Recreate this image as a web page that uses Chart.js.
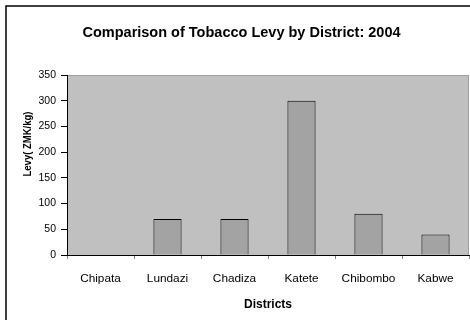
<!DOCTYPE html>
<html>
<head>
<meta charset="utf-8">
<script src="https://cdn.jsdelivr.net/npm/chart.js@4.4.1/dist/chart.umd.min.js"></script>
<style>
html,body{margin:0;padding:0;background:#fff;overflow:hidden;}
#wrap{position:relative;width:470px;height:320px;}
</style>
</head>
<body>
<div id="wrap"><canvas id="c" width="470" height="320"></canvas></div>
<script>
const districts = ["Chipata", "Lundazi", "Chadiza", "Katete", "Chibombo", "Kabwe"];
const levy = [0, 70, 70, 300, 80, 40];
const yTicks = [0, 50, 100, 150, 200, 250, 300, 350];
const chartTitle = "Comparison of Tobacco Levy by District: 2004";
const xTitle = "Districts";
const yTitle = "Levy( ZMK/kg)";

const FONT = "'Liberation Sans', Arial, sans-serif";

const framePlugin = {
  id: 'frame',
  beforeDraw(chart) {
    const {ctx, chartArea: a} = chart;
    ctx.save();
    ctx.fillStyle = '#fff';
    ctx.fillRect(0, 0, chart.width, chart.height);
    ctx.strokeStyle = '#000';
    ctx.lineWidth = 1.5;
    ctx.beginPath();
    ctx.moveTo(6, chart.height);
    ctx.lineTo(6, 6);
    ctx.lineTo(chart.width, 6);
    ctx.stroke();
    ctx.fillStyle = '#c0c0c0';
    ctx.fillRect(a.left, a.top, a.right - a.left, a.bottom - a.top);
    ctx.strokeStyle = '#a0a0a0';
    ctx.lineWidth = 1;
    ctx.strokeRect(a.left + 0.5, a.top + 0.5, a.right - a.left - 1, a.bottom - a.top);
    ctx.restore();
  },
  afterDraw(chart) {
    // y-axis title, centred where the reference places it
    const {ctx, chartArea: a} = chart;
    ctx.save();
    ctx.translate(28, (a.top + a.bottom) / 2 - 21);
    ctx.rotate(-Math.PI / 2);
    ctx.scale(1, 1.2);
    ctx.fillStyle = '#000';
    ctx.font = "bold 9.5px " + FONT;
    ctx.textAlign = 'center';
    ctx.textBaseline = 'middle';
    ctx.fillText(yTitle, 0, 0);
    ctx.restore();
  }
};

new Chart(document.getElementById('c'), {
  type: 'bar',
  data: {
    labels: districts,
    datasets: [{
      data: levy,
      backgroundColor: '#a3a3a3',
      borderColor: '#000',
      borderWidth: 1,
      barPercentage: 0.42,
      categoryPercentage: 1
    }]
  },
  options: {
    responsive: false,
    animation: false,
    devicePixelRatio: 1,
    layout: { padding: { left: 14, right: 1, top: 0, bottom: 0 } },
    plugins: {
      legend: { display: false },
      tooltip: { enabled: false },
      title: {
        display: true,
        text: chartTitle,
        color: '#000',
        font: { family: FONT, size: 14.5, weight: 'bold' },
        padding: { top: 23.8, bottom: 33.8 }
      }
    },
    scales: {
      x: {
        grid: { display: true, drawOnChartArea: false, drawTicks: true, tickLength: 4, color: '#808080', offset: true },
        border: { display: true, color: '#000', width: 1 },
        ticks: { color: '#000', font: { family: FONT, size: 11.8 }, padding: 13, maxRotation: 0 },
        title: { display: true, text: xTitle, color: '#000', font: { family: FONT, size: 12, weight: 'bold' }, padding: { top: 0, bottom: 8 } },
        afterFit(s) { s.height = 65; }
      },
      y: {
        min: 0, max: 350,
        afterBuildTicks(s) { s.ticks = yTicks.map(v => ({ value: v })); },
        grid: { display: true, drawOnChartArea: false, drawTicks: true, tickLength: 6, color: '#000' },
        border: { display: true, color: '#000', width: 1 },
        ticks: { color: '#000', font: { family: FONT, size: 10.5 }, padding: 5 },
        title: { display: false, text: yTitle },
        afterFit(s) { s.width = 53; }
      }
    }
  },
  plugins: [framePlugin]
});
</script>
</body>
</html>
